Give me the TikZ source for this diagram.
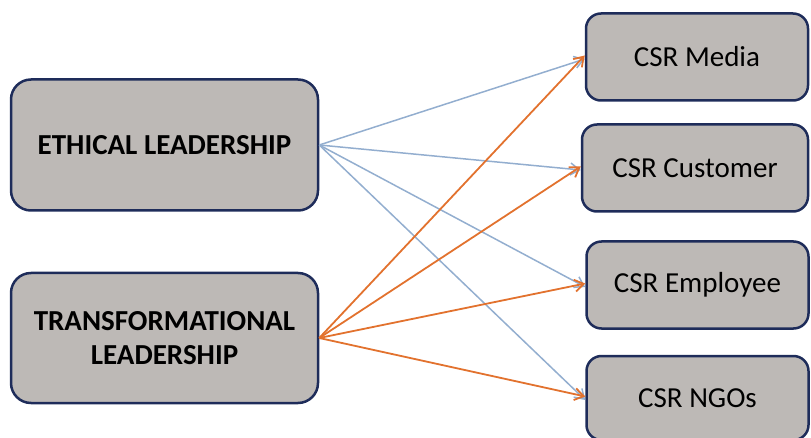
\documentclass[tikz,border=0pt]{standalone}
\usepackage{fontspec}
\setmainfont{Carlito}
\usetikzlibrary{arrows.meta}
\definecolor{boxfill}{HTML}{BDB9B6}
\definecolor{boxline}{HTML}{1E2C5A}
\definecolor{bluearr}{HTML}{93AECF}
\definecolor{orarr}{HTML}{E2722E}
\tikzset{
  leftbox/.style={draw=boxline, fill=boxfill, line width=2.5pt, rounded corners=20pt,
    minimum width=307pt, minimum height=131pt, inner sep=0pt, align=center,
    font=\fontsize{29}{34}\selectfont\bfseries},
  rightbox/.style={draw=boxline, fill=boxfill, line width=2.5pt, rounded corners=15pt,
    minimum width=222pt, minimum height=87pt, inner sep=0pt,
    font=\fontsize{29}{34}\selectfont},
  barr/.style={draw=bluearr, line width=1.5pt, -{Straight Barb[length=9pt,width=12pt]}},
  oarr/.style={draw=orarr, line width=1.8pt, -{Straight Barb[length=9pt,width=12pt]}},
}
\begin{document}
\begin{tikzpicture}[x=1pt,y=-1pt]
\useasboundingbox (0,0) rectangle (811,438);
\node[leftbox] (eth) at (164.5,145) {ETHICAL LEADERSHIP};
\node[leftbox, minimum height=130pt] (tra) at (164.5,338) {TRANSFORMATIONAL\\LEADERSHIP};
\node[rightbox] (med) at (697,57) {CSR Media};
\node[rightbox, minimum width=226pt] (cus) at (695,168) {CSR Customer};
\node[rightbox] (emp) at (697.5,285) {CSR Employee};
\node[rightbox, minimum height=84pt] (ngo) at (697.5,398) {CSR NGOs};
\foreach \t in {med,cus,emp,ngo}{
  \draw[barr] (eth.east) -- ([yshift=-2pt]\t.west);
}
\foreach \t in {med,cus,emp,ngo}{
  \draw[oarr] (tra.east) -- ([yshift=1.5pt]\t.west);
}
\end{tikzpicture}
\end{document}
